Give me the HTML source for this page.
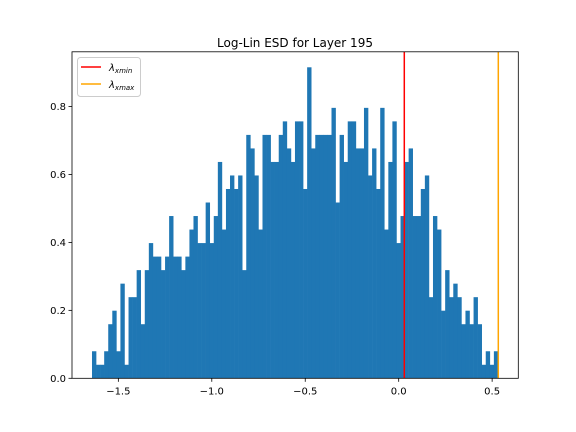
<!DOCTYPE html>
<html><head><meta charset="utf-8"><style>
body{margin:0;background:#fff}
svg{display:block;font-family:"DejaVu Sans","Liberation Sans",sans-serif}
</style></head><body>
<svg id="chart" width="576" height="432" viewBox="0 0 576 432">
<rect x="0" y="0" width="576" height="432" fill="#fff"/>
<g id="bars"></g>
<g id="lines"></g>
<g id="axes"></g>
<text x="295" y="47" font-size="12" text-anchor="middle">Log-Lin ESD for Layer 195</text>
<g>
<rect x="77.5" y="57.5" width="63" height="39" rx="3" fill="#fff" stroke="#ccc"/>
<line x1="81" y1="67" x2="101" y2="67" stroke="red" stroke-width="1.5"/>
<text x="109" y="71" font-size="10"><tspan font-style="italic">λ</tspan><tspan font-size="7" dy="2" font-style="italic">xmin</tspan></text>
<line x1="81" y1="84" x2="101" y2="84" stroke="orange" stroke-width="1.5"/>
<text x="109" y="88" font-size="10"><tspan font-style="italic">λ</tspan><tspan font-size="7" dy="2" font-style="italic">xmax</tspan></text>
</g>
</svg>
<script>
const counts=[2,1,1,2,4,5,2,7,1,6,6,8,4,8,10,9,9,8,9,12,9,9,8,9,11,12,10,10,13,10,12,16,
11,14,15,14,15,8,18,17,15,11,18,18,16,16,18,19,17,16,19,19,14,23,17,18,18,18,18,20,13,18,16,19,19,17,
17,20,15,17,14,20,11,16,19,10,12,16,17,12,12,14,15,6,12,11,5,8,6,7,6,4,5,4,6,4,1,2,1,2];
const density=0.0398;
const binStart=-1.641, binEnd=0.531;
const xminVal=0.030, xmaxVal=0.533;
const xTicks=[-1.5,-1.0,-0.5,0.0,0.5];
const xTickLabels=["\u22121.5","\u22121.0","\u22120.5","0.0","0.5"];
const yTicks=[0,0.2,0.4,0.6,0.8];
const yTickLabels=["0.0","0.2","0.4","0.6","0.8"];
const L=72,R=518.3,T=51.8,B=378.3;
const xlo=-1.748,xhi=0.640,ylo=0,yhi=0.961;
const X=v=>L+(v-xlo)/(xhi-xlo)*(R-L);
const Y=v=>B-(v-ylo)/(yhi-ylo)*(B-T);
const NS="http://www.w3.org/2000/svg";
function mk(t,a,p){const e=document.createElementNS(NS,t);for(const k in a)e.setAttribute(k,a[k]);p.appendChild(e);return e;}
const bars=document.getElementById('bars');
const w=(binEnd-binStart)/counts.length;
counts.forEach((c,i)=>{
  const x0=X(binStart+i*w),x1=X(binStart+(i+1)*w),h=c*density;
  const r=mk('rect',{x:x0,y:Y(h),width:x1-x0+0.3,height:Y(0)-Y(h),fill:'#1f77b4'},bars);
  
  
});
const lines=document.getElementById('lines');
const l1=mk('line',{x1:X(xminVal),x2:X(xminVal),y1:T,y2:B,stroke:'red','stroke-width':1.5},lines);


const l2=mk('line',{x1:X(xmaxVal),x2:X(xmaxVal),y1:T,y2:B,stroke:'orange','stroke-width':1.5},lines);


const ax=document.getElementById('axes');
const fr=mk('rect',{x:L,y:T,width:R-L,height:B-T,fill:'none',stroke:'#000','stroke-width':0.8},ax);


xTicks.forEach((v,i)=>{
  const x=X(v);
  mk('line',{x1:x,x2:x,y1:B,y2:B+3.5,stroke:'#000','stroke-width':0.8},ax);
  const t=mk('text',{x:x,y:B+16,'font-size':10,'text-anchor':'middle'},ax);
  t.textContent=xTickLabels[i];
  
  
});
yTicks.forEach((v,i)=>{
  const y=Y(v);
  mk('line',{x1:L-3.5,x2:L,y1:y,y2:y,stroke:'#000','stroke-width':0.8},ax);
  const t=mk('text',{x:L-6,y:y+3.5,'font-size':10,'text-anchor':'end'},ax);
  t.textContent=yTickLabels[i];
  
  
});
</script>
</body></html>
